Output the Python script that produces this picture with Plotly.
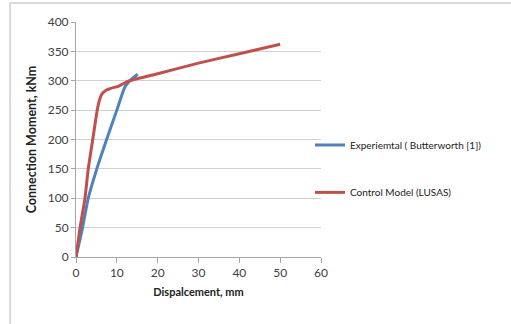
import plotly.graph_objects as go

# Data
exp_x = [0, 1.6, 3.0, 5.1, 7.5, 10.0, 12.0, 13.5, 15.1]
exp_y = [0, 50, 100, 150, 200, 250, 290, 302, 311]

lusas_x = [0, 1.0, 2.2, 3.0, 4.1, 5.2, 5.7, 6.3, 7.2, 8.5, 10.5, 12.7, 20, 30, 40, 50]
lusas_y = [0, 50, 100, 150, 200, 250, 266, 277, 283, 287, 291, 299, 312, 330, 346, 362]

x_ticks = [0, 10, 20, 30, 40, 50, 60]
y_ticks = [0, 50, 100, 150, 200, 250, 300, 350, 400]

FONT = "Lato, Carlito, 'Liberation Sans', sans-serif"

fig = go.Figure()
fig.add_trace(go.Scatter(x=exp_x, y=exp_y, mode="lines", name="Experiemtal ( Butterworth [1])",
                         line=dict(color="#4F81BD", width=3, shape="spline", smoothing=0.5),
                         legend="legend", showlegend=True))
fig.add_trace(go.Scatter(x=lusas_x, y=lusas_y, mode="lines", name="Control Model (LUSAS)",
                         line=dict(color="#C0504D", width=3, shape="spline", smoothing=0.5),
                         legend="legend2", showlegend=True))

fig.update_layout(
    width=511, height=324,
    margin=dict(l=76, r=190, t=22, b=67),
    paper_bgcolor="white", plot_bgcolor="white",
    showlegend=True,
    font=dict(family=FONT, size=11, color="#404040"),
    legend=dict(x=0.955, xanchor="left", y=0.477, yanchor="middle",
                bgcolor="rgba(0,0,0,0)", font=dict(size=10, color="#222"),
                itemwidth=30, tracegroupgap=0, visible=True),
    legend2=dict(x=0.955, xanchor="left", y=0.275, yanchor="middle",
                 bgcolor="rgba(0,0,0,0)", font=dict(size=10, color="#222"),
                 itemwidth=30, tracegroupgap=0, visible=True),
    xaxis=dict(range=[0, 60], tickvals=x_ticks, ticks="outside", ticklen=5,
               tickcolor="#a6a6a6", showgrid=False, showline=True, linecolor="#a6a6a6",
               linewidth=1, zeroline=False,
               title=dict(text="<b>Dispalcement, mm</b>", font=dict(size=11, color="#222"), standoff=8),
               tickfont=dict(size=12, color="#404040")),
    yaxis=dict(range=[0, 400], tickvals=y_ticks, ticks="outside", ticklen=4,
               tickcolor="#a6a6a6", showgrid=True, gridcolor="#d0d0d0", gridwidth=1,
               showline=True, linecolor="#a6a6a6", linewidth=1, zeroline=False,
               title=dict(text="<b>Connection Moment, kNm</b>", font=dict(size=12.5, color="#222"), standoff=8),
               tickfont=dict(size=12, color="#404040")),
    shapes=[dict(type="rect", xref="paper", yref="paper", x0=-0.269, y0=-0.35, x1=1.8, y1=1.081,
                 line=dict(color="#d9d9d9", width=2), fillcolor="rgba(0,0,0,0)", layer="below")],
)

fig.write_html("out.html")
